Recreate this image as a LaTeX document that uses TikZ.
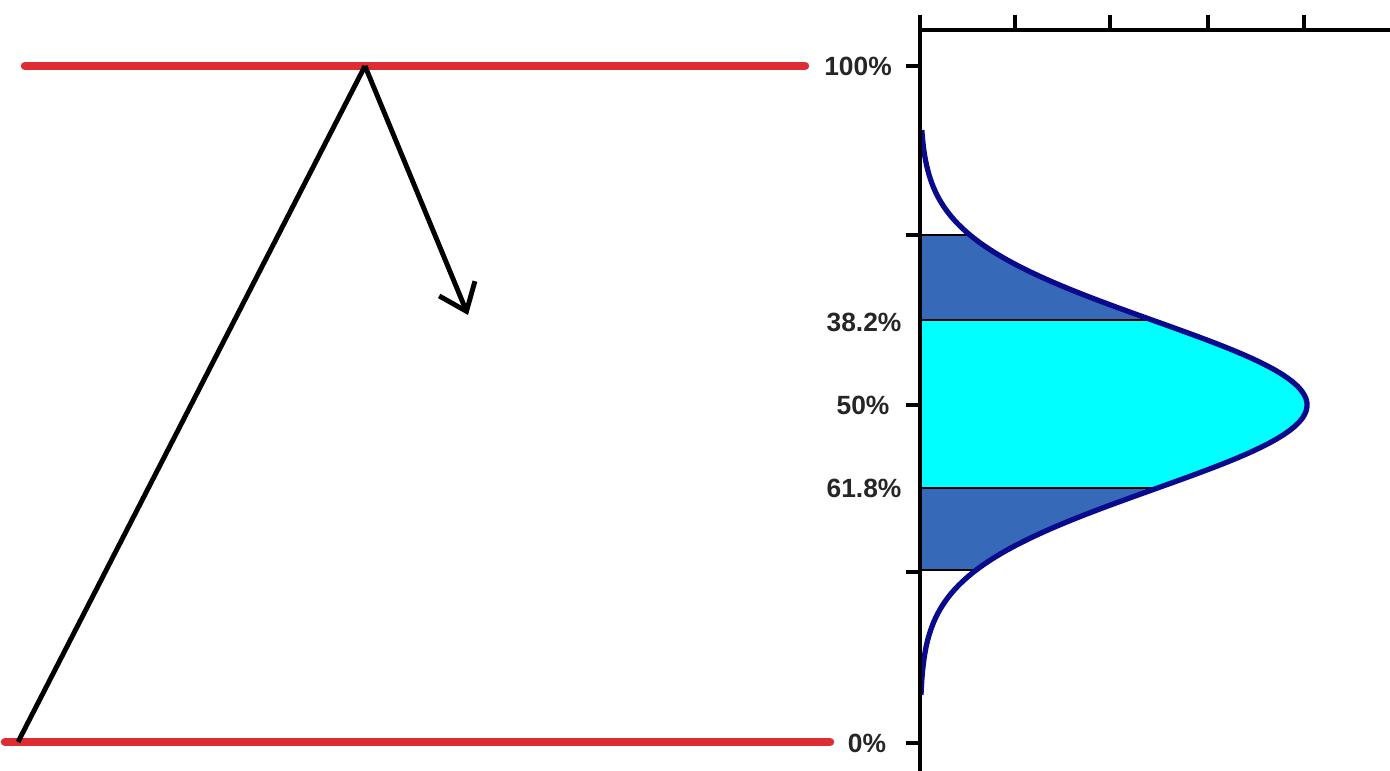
\documentclass[tikz,border=0pt]{standalone}
\usepackage{fontspec}
\setmainfont{Liberation Sans}
\usepackage{xcolor}
\usetikzlibrary{arrows.meta,positioning}
\definecolor{levelred}{RGB}{222,45,50}
\definecolor{bellnavy}{RGB}{10,10,140}
\definecolor{bandblue}{RGB}{55,105,185}
\definecolor{coreaqua}{RGB}{0,255,255}

\begin{document}
\begin{tikzpicture}[
  x=0.01cm, y=-0.01cm,
  level/.style={line width=2.4pt, levelred, line cap=round},
  swing/.style={line width=1.4pt, black},
  pct/.style={font=\fontsize{7.5}{9}\selectfont\bfseries, text=black!85, inner sep=0pt},
  axis/.style={line width=1.1pt, black},
  cut/.style={line width=0.6pt, black}
]
\useasboundingbox (0,0) rectangle (1390,771);

% price levels
\coordinate (top-l) at (25,66);
\coordinate (top-r) at (805,66);
\coordinate (bot-l) at (5,742);
\coordinate (bot-r) at (830,742);
\draw[level] (top-l) -- (top-r);
\draw[level] (bot-l) -- (bot-r);

% swing up and pullback
\coordinate (start) at (18,742);
\coordinate (high) at (365,66);
\coordinate (target) at (468,315);
\draw[swing, line join=round] (start) -- (high);
\draw[swing, -{Straight Barb[length=7pt,width=11pt]}] (high) -- (target);

% labels
\node[pct] (p100) at (858,66) {100\%};
\node[pct] (p382) at (864,322) {38.2\%};
\node[pct] (p50) at (863,405) {50\%};
\node[pct] (p618) at (864,488) {61.8\%};
\node[pct] (p0) at (867,743) {0\%};

% bell curve bands
\fill[bandblue] (920,235) -- plot[domain=235:570, samples=80] ({920+387*exp(-0.5*((\x-405)/84)^2)}, \x) -- (920,570) -- cycle;
\fill[coreaqua] (920,320) -- plot[domain=320:488, samples=60] ({920+387*exp(-0.5*((\x-405)/84)^2)}, \x) -- (920,488) -- cycle;
\foreach \yy in {235,320,488,570}
  \draw[cut] (920,\yy) -- ({920+387*exp(-0.5*((\yy-405)/84)^2)}, \yy);
\draw[line width=1.5pt, bellnavy, line join=round] plot[domain=130:695, samples=140] ({920+387*exp(-0.5*((\x-405)/84)^2)}, \x);

% axes
\coordinate (ax-top) at (920,15);
\coordinate (ax-bot) at (920,771);
\coordinate (ax-r) at (1390,30);
\draw[axis] (ax-top) -- (ax-bot);
\draw[axis] (920,30) -- (ax-r);
\foreach \xx in {1015,1110,1208,1304}
  \draw[axis] (\xx,15) -- (\xx,30);
\foreach \yy in {66,235,405,572,743}
  \draw[axis] (906,\yy) -- (920,\yy);
\end{tikzpicture}
\end{document}
